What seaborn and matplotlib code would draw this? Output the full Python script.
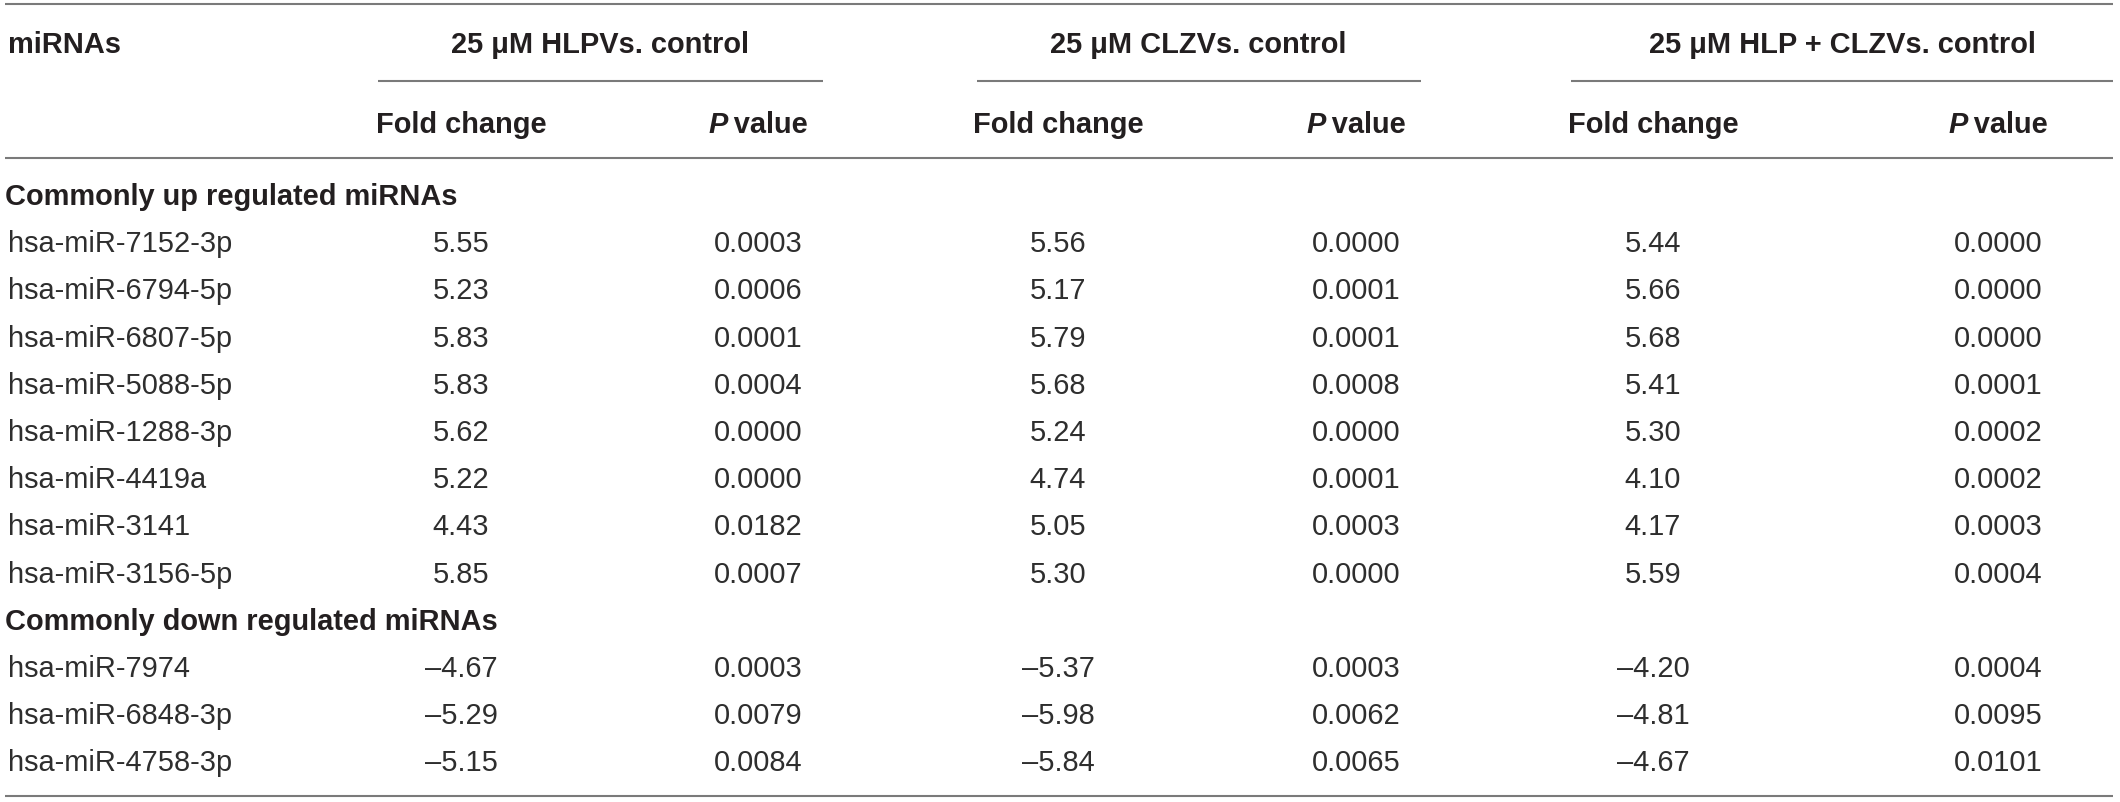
import matplotlib
matplotlib.use("Agg")
import matplotlib.pyplot as plt
import seaborn as sns

# Table content
groups = ["25 \u03bcM HLPVs. control", "25 \u03bcM CLZVs. control", "25 \u03bcM HLP + CLZVs. control"]
sections = ["Commonly up regulated miRNAs", "Commonly down regulated miRNAs"]
mirnas_up = ["hsa-miR-7152-3p", "hsa-miR-6794-5p", "hsa-miR-6807-5p", "hsa-miR-5088-5p",
             "hsa-miR-1288-3p", "hsa-miR-4419a", "hsa-miR-3141", "hsa-miR-3156-5p"]
mirnas_down = ["hsa-miR-7974", "hsa-miR-6848-3p", "hsa-miR-4758-3p"]

fc_hlp = [5.55, 5.23, 5.83, 5.83, 5.62, 5.22, 4.43, 5.85, -4.67, -5.29, -5.15]
p_hlp = [0.0003, 0.0006, 0.0001, 0.0004, 0.0000, 0.0000, 0.0182, 0.0007, 0.0003, 0.0079, 0.0084]
fc_clz = [5.56, 5.17, 5.79, 5.68, 5.24, 4.74, 5.05, 5.30, -5.37, -5.98, -5.84]
p_clz = [0.0000, 0.0001, 0.0001, 0.0008, 0.0000, 0.0001, 0.0003, 0.0000, 0.0003, 0.0062, 0.0065]
fc_both = [5.44, 5.66, 5.68, 5.41, 5.30, 4.10, 4.17, 5.59, -4.20, -4.81, -4.67]
p_both = [0.0000, 0.0000, 0.0000, 0.0001, 0.0002, 0.0002, 0.0003, 0.0004, 0.0004, 0.0095, 0.0101]

sns.set_theme(style="white")
plt.rcParams["font.family"] = ["Liberation Sans", "DejaVu Sans"]

# layout (figure is used in pixel units)
W, H = 2120, 803
fs = 20.9
dark = "#231f20"
body = "#2e2e2e"
rule = "#7a7a7a"
fc_x = [461, 1058, 1653]
p_x = [758, 1356, 1998]
group_x = [600, 1198, 1842]
group_lines = [(378, 823), (977, 1421), (1571, 2113)]
row0, step = 195, 47.2
base = 10  # baseline offset from visual centre

fig = plt.figure(figsize=(W / 100, H / 100), dpi=100)
ax = fig.add_axes([0, 0, 1, 1])
ax.set_xlim(0, W)
ax.set_ylim(H, 0)
ax.axis("off")

# rules
for y in (5, 159, 797):
    ax.plot([5, 2113], [y, y], color=rule, lw=1.5, solid_capstyle="butt")
for x0, x1 in group_lines:
    ax.plot([x0, x1], [82, 82], color=rule, lw=1.5, solid_capstyle="butt")

# headers
ax.text(8, 43 + base, "miRNAs", fontsize=fs, fontweight="bold", color=dark, va="baseline")
for gx, g in zip(group_x, groups):
    ax.text(gx, 43 + base, g, fontsize=fs, fontweight="bold", color=dark, ha="center", va="baseline")
for fx in fc_x:
    ax.text(fx, 123 + base, "Fold change", fontsize=fs, fontweight="bold", color=dark,
            ha="center", va="baseline")

# "P value" with italic P, centred as a whole
fig.canvas.draw()
r = fig.canvas.get_renderer()
for px in p_x:
    tp = ax.text(0, 123 + base, "P", fontsize=fs, fontweight="bold", style="italic",
                 color=dark, va="baseline")
    tv = ax.text(0, 123 + base, "\u2009value", fontsize=fs, fontweight="bold",
                 color=dark, va="baseline")
    wp = tp.get_window_extent(r).width
    wv = tv.get_window_extent(r).width
    left = px - (wp + wv) / 2
    tp.set_x(left)
    tv.set_x(left + wp)


def fmt_fc(v):
    s = f"{v:.2f}"
    return s.replace("-", "\u2013")


names = mirnas_up + mirnas_down
row_idx = list(range(1, 9)) + list(range(10, 13))

ax.text(5, row0 + base, sections[0], fontsize=fs, fontweight="bold", color=dark, va="baseline")
ax.text(5, row0 + 9 * step + base, sections[1], fontsize=fs, fontweight="bold", color=dark, va="baseline")

cols = [(fc_hlp, p_hlp), (fc_clz, p_clz), (fc_both, p_both)]
for i, (name, k) in enumerate(zip(names, row_idx)):
    y = row0 + k * step + base
    ax.text(8, y, name, fontsize=fs, color=body, va="baseline")
    for j, (fcs, ps) in enumerate(cols):
        ax.text(fc_x[j], y, fmt_fc(fcs[i]), fontsize=fs, color=body, ha="center", va="baseline")
        ax.text(p_x[j], y, f"{ps[i]:.4f}", fontsize=fs, color=body, ha="center", va="baseline")

fig.savefig("out.png", dpi=100)
